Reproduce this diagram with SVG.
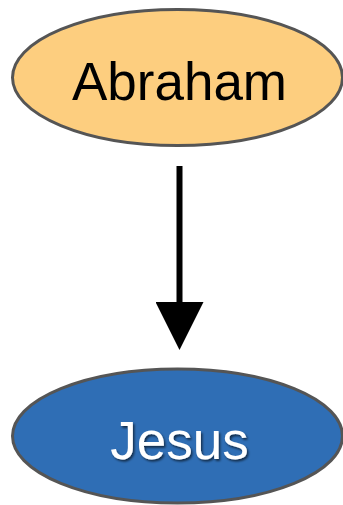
<svg xmlns="http://www.w3.org/2000/svg" width="343" height="505" viewBox="0 0 343 505">
<style>
.node{stroke:#555555;stroke-width:3}
.lbl{font-family:"Liberation Sans",Arial,sans-serif;font-size:53px;text-anchor:middle}
</style>
<defs>
<filter id="sh" x="-20%" y="-20%" width="140%" height="140%">
<feDropShadow dx="1.5" dy="2" stdDeviation="1.2" flood-color="#000" flood-opacity="0.6"/>
</filter>
<marker id="arr" markerUnits="userSpaceOnUse" markerWidth="48" markerHeight="48" refX="0" refY="24" orient="auto" viewBox="0 0 48 48">
<path d="M0,0 L48,24 L0,48 Z" fill="#000"/>
</marker>
</defs>
<g id="connectors">
<line x1="179.5" y1="166" x2="179.5" y2="302" stroke="#000" stroke-width="6" marker-end="url(#arr)"/>
</g>
<g id="abraham">
<ellipse class="node" cx="177.5" cy="77.5" rx="165" ry="68" fill="#FDCE7F"/>
<text class="lbl" x="179.5" y="100" fill="#000">Abraham</text>
</g>
<g id="jesus">
<ellipse class="node" cx="177.5" cy="436" rx="165" ry="67" fill="#2F6EB5"/>
<text class="lbl" x="179.5" y="459" fill="#fff" filter="url(#sh)">Jesus</text>
</g>
</svg>
